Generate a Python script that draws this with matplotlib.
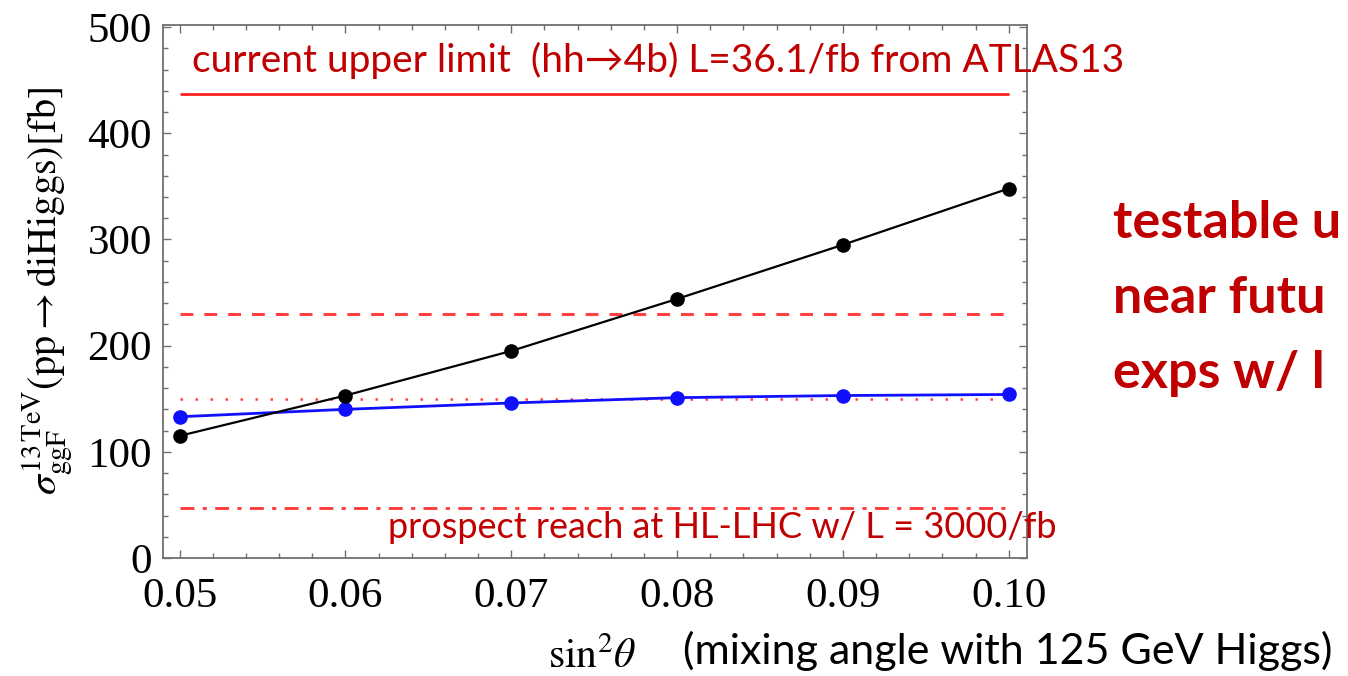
import matplotlib
matplotlib.use('Agg')
from matplotlib import pyplot as plt
from matplotlib.ticker import MultipleLocator

# data
sin2theta = [0.05, 0.06, 0.07, 0.08, 0.09, 0.10]
sigma_black = [115, 153, 195, 244, 295, 348]
sigma_blue = [133, 140, 146, 151, 153, 154]

limit_atlas = 437     # current upper limit, solid
limit_dashed = 230
limit_dotted = 150
limit_hllhc = 47      # prospect reach, dash-dot

xticks = [0.05, 0.06, 0.07, 0.08, 0.09, 0.10]
xticklabels = ['0.05', '0.06', '0.07', '0.08', '0.09', '0.10']
yticks = [0, 100, 200, 300, 400, 500]

darkred = '#c00000'
red = '#ff2020'
gray = '#707070'

plt.rcParams['mathtext.fontset'] = 'stix'

fig = plt.figure(figsize=(13.48, 6.76), dpi=100)
ax = fig.add_axes([0.1209, 0.1746, 0.641, 0.7884])

xs = [sin2theta[0], sin2theta[-1]]
ax.plot(xs, [limit_atlas]*2, color=red, lw=2.0, solid_capstyle='butt')
ax.plot(xs, [limit_dashed]*2, color=red, lw=2.2, dashes=(4.2, 3.6), alpha=0.85)
ax.plot(xs, [limit_dotted]*2, color=red, lw=1.8, dashes=(1, 5), alpha=0.85)
ax.plot(xs, [limit_hllhc]*2, color=red, lw=2.0, dashes=(5, 3, 1.5, 3), alpha=0.9)

ax.plot(sin2theta, sigma_black, color='black', lw=1.6, marker='o', ms=9.5, zorder=4)
ax.plot(sin2theta, sigma_blue, color='#1010ff', lw=2.0, marker='o', ms=9.5, zorder=3)

ax.set_xlim(0.049, 0.1011)
ax.set_ylim(0, 502)
ax.set_xticks(xticks)
ax.set_xticklabels(xticklabels)
ax.set_yticks(yticks)
ax.xaxis.set_minor_locator(MultipleLocator(0.002))
ax.yaxis.set_minor_locator(MultipleLocator(20))

for s in ax.spines.values():
    s.set_color(gray)
    s.set_linewidth(1.3)
ax.tick_params(which='both', direction='in', top=True, right=True, color=gray, width=1.0)
ax.tick_params(which='major', length=6)
ax.tick_params(which='minor', length=3.5)
ax.tick_params(axis='x', pad=14)
ax.tick_params(axis='y', pad=8)
for lab in ax.get_xticklabels() + ax.get_yticklabels():
    lab.set_fontfamily('Liberation Serif')
    lab.set_fontsize(31)

ax.set_ylabel(r'$\sigma^{13\,\mathrm{TeV}}_{\mathrm{ggF}}(\mathrm{pp}\rightarrow\mathrm{diHiggs})[\mathrm{fb}]$',
              fontsize=29)
ax.yaxis.set_label_coords(-0.102, 0.5)

# annotations
fig.text(192/1348, 1-72/676, 'current upper limit  (hh\u2192' + '4b) L=36.1/fb from ATLAS13',
         color=darkred, fontsize=28, family=['Lato', 'DejaVu Sans'], va='baseline')
fig.text(388/1348, 1-538/676, 'prospect reach at HL-LHC w/ L = 3000/fb',
         color=darkred, fontsize=26, family=['Lato', 'DejaVu Sans'], va='baseline')

fig.text(548/1348, 1-668/676, r'$\mathrm{sin}^2\theta$', fontsize=30, va='baseline')
fig.text(683/1348, 1-664/676, '(mixing angle with 125 GeV Higgs)',
         color='black', fontsize=31, family='Lato', va='baseline')

for i, t in enumerate(['testable u', 'near futu', 'exps w/ l']):
    fig.text(1113/1348, 1-(238+75*i)/676, t, color=darkred, fontsize=37.5,
             family='Lato', weight='bold', va='baseline')

fig.savefig('out.png', dpi=100)
